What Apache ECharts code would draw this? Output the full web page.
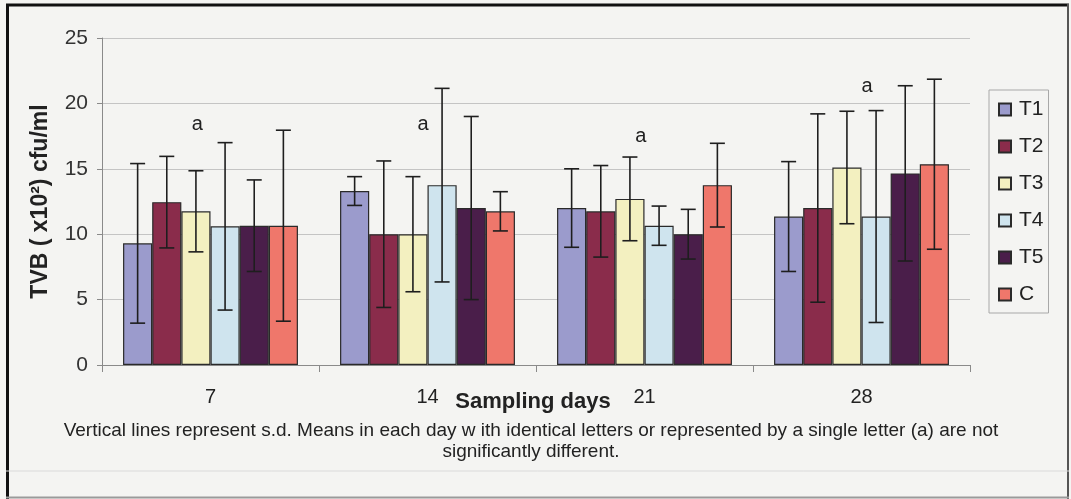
<!DOCTYPE html>
<html>
<head>
<meta charset="utf-8">
<script src="https://cdn.jsdelivr.net/npm/echarts@6/dist/echarts.min.js"></script>
<style>
html,body{margin:0;padding:0;background:#F4F4F2;}
#chart{width:1071px;height:499px;}
</style>
</head>
<body>
<div id="chart"></div>
<script>
// ---- data ----
const categories = ['7', '14', '21', '28'];
const seriesNames = ['T1', 'T2', 'T3', 'T4', 'T5', 'C'];
const T1 = [9.3, 13.3, 12.0, 11.35];
const T2 = [12.45, 10.0, 11.75, 12.0];
const T3 = [11.75, 10.0, 12.7, 15.1];
const T4 = [10.6, 13.75, 10.65, 11.35];
const T5 = [10.65, 12.0, 10.0, 14.65];
const C  = [10.65, 11.75, 13.75, 15.35];
const sdT1 = [6.1, 1.1, 3.0, 4.2];
const sdT2 = [3.5, 5.6, 3.5, 7.2];
const sdT3 = [3.1, 4.4, 3.2, 4.3];
const sdT4 = [6.4, 7.4, 1.5, 8.1];
const sdT5 = [3.5, 7.0, 1.9, 6.7];
const sdC  = [7.3, 1.5, 3.2, 6.5];
const letters = ['a', 'a', 'a', 'a'];
const letterValues = [18.4, 18.4, 17.5, 21.3];
const yTickValues = [0, 5, 10, 15, 20, 25];
const xAxisTitle = 'Sampling days';
const yAxisTitle = 'TVB ( x10\u00B2) cfu/ml';
const captionLines = [
  'Vertical lines represent s.d. Means in each day w ith identical letters or represented by a single letter (a) are not',
  'significantly different.'
];

// ---- style ----
const colors = ['#9B9BCC', '#8A2C4B', '#F3F0C0', '#CFE4EE', '#4A1E4A', '#EF776B'];
const GAP = 0.194;
const letterSlot = [2.05, 2.35, 2.37, 2.69];
const FONT = '"Liberation Sans", Arial, sans-serif';

const values = [T1, T2, T3, T4, T5, C];
const sds = [sdT1, sdT2, sdT3, sdT4, sdT5, sdC];

const barSeries = seriesNames.map((n, i) => ({
  name: n,
  type: 'bar',
  data: values[i],
  barGap: '0%',
  barCategoryGap: (GAP * 100) + '%',
  itemStyle: { color: colors[i], borderColor: '#2a2a2a', borderWidth: 1.2 },
  z: 2
}));

const errData = [];
values.forEach((arr, s) => arr.forEach((v, c) => errData.push([c, v, sds[s][c], s])));

const errSeries = {
  type: 'custom',
  data: errData,
  encode: { x: 0, y: 1 },
  z: 5,
  silent: true,
  renderItem: function (params, api) {
    const c = api.value(0), v = api.value(1), sd = api.value(2), s = api.value(3);
    const catW = api.size([1, 0])[0];
    const bw = catW * (1 - GAP) / 6;
    const center = api.coord([c, v]);
    const x = center[0] + (s - 2.5) * bw;
    const yHi = api.coord([c, v + sd])[1];
    const yLo = api.coord([c, v - sd])[1];
    const cap = 7.5;
    const st = { stroke: '#1e1e1e', lineWidth: 1.6 };
    return {
      type: 'group',
      children: [
        { type: 'line', shape: { x1: x, y1: yHi, x2: x, y2: yLo }, style: st },
        { type: 'line', shape: { x1: x - cap, y1: yHi, x2: x + cap, y2: yHi }, style: st },
        { type: 'line', shape: { x1: x - cap, y1: yLo, x2: x + cap, y2: yLo }, style: st }
      ]
    };
  }
};

const letterSeries = {
  type: 'custom',
  data: letters.map((l, c) => [c, letterValues[c]]),
  encode: { x: 0, y: 1 },
  z: 6,
  silent: true,
  renderItem: function (params, api) {
    const c = api.value(0), v = api.value(1);
    const catW = api.size([1, 0])[0];
    const bw = catW * (1 - GAP) / 6;
    const p = api.coord([c, v]);
    const x = p[0] + (letterSlot[c] - 2.5) * bw;
    return {
      type: 'text',
      style: {
        x: x, y: p[1], text: letters[c],
        font: '20px ' + FONT, fill: '#222',
        align: 'center', verticalAlign: 'middle'
      }
    };
  }
};

const chart = echarts.init(document.getElementById('chart'));
chart.setOption({
  animation: false,
  backgroundColor: '#F4F4F2',
  textStyle: { fontFamily: FONT },
  grid: { left: 102, right: 101, top: 38, bottom: 134, containLabel: false },
  legend: {
    data: seriesNames,
    orient: 'vertical',
    left: 989,
    top: 90,
    icon: 'rect',
    itemWidth: 12,
    itemHeight: 12,
    itemGap: 16,
    padding: [9, 5, 8, 9],
    borderColor: '#a8a8a8',
    borderWidth: 1,
    textStyle: { fontSize: 21, color: '#222', fontFamily: FONT, lineHeight: 21, padding: [0, 0, 0, 3] }
  },
  xAxis: {
    type: 'category',
    data: categories,
    axisLine: { show: true, lineStyle: { color: '#8a8a8a', width: 1 } },
    axisTick: { show: true, length: 7, lineStyle: { color: '#8a8a8a' } },
    axisLabel: { fontSize: 20, color: '#222', margin: 22 },
    splitLine: { show: false }
  },
  yAxis: {
    type: 'value',
    min: yTickValues[0],
    max: yTickValues[yTickValues.length - 1],
    interval: yTickValues[1] - yTickValues[0],
    name: yAxisTitle,
    nameLocation: 'middle',
    nameGap: 50,
    nameRotate: 90,
    nameTextStyle: { fontSize: 23, fontWeight: 'bold', color: '#222' },
    axisLine: { show: true, lineStyle: { color: '#8a8a8a', width: 1 } },
    axisTick: { show: true, length: 5, lineStyle: { color: '#8a8a8a' } },
    axisLabel: { fontSize: 21, color: '#333', margin: 14 },
    splitLine: { show: true, lineStyle: { color: '#c4c4c4', width: 1 } }
  },
  graphic: [
    { type: 'text', x: 533, y: 402, z: 10, style: { text: xAxisTitle, font: 'bold 22px ' + FONT, fill: '#222', align: 'center', verticalAlign: 'middle' } },
    { type: 'text', x: 531, y: 431, style: { text: captionLines[0], font: '19px ' + FONT, fill: '#222', align: 'center', verticalAlign: 'middle' } },
    { type: 'text', x: 531, y: 452, style: { text: captionLines[1], font: '19px ' + FONT, fill: '#222', align: 'center', verticalAlign: 'middle' } },
    { type: 'line', shape: { x1: 6, y1: 5, x2: 1069, y2: 5 }, style: { stroke: '#111', lineWidth: 3 } },
    { type: 'line', shape: { x1: 7.5, y1: 4, x2: 7.5, y2: 499 }, style: { stroke: '#111', lineWidth: 3 } },
    { type: 'line', shape: { x1: 1068, y1: 4, x2: 1068, y2: 499 }, style: { stroke: '#555', lineWidth: 2 } },
    { type: 'line', shape: { x1: 6, y1: 471, x2: 1069, y2: 471 }, style: { stroke: '#dadada', lineWidth: 1 } },
    { type: 'line', shape: { x1: 6, y1: 497.5, x2: 1069, y2: 497.5 }, style: { stroke: '#9a9a9a', lineWidth: 2 } }
  ],
  series: barSeries.concat([errSeries, letterSeries])
});
</script>
</body>
</html>
